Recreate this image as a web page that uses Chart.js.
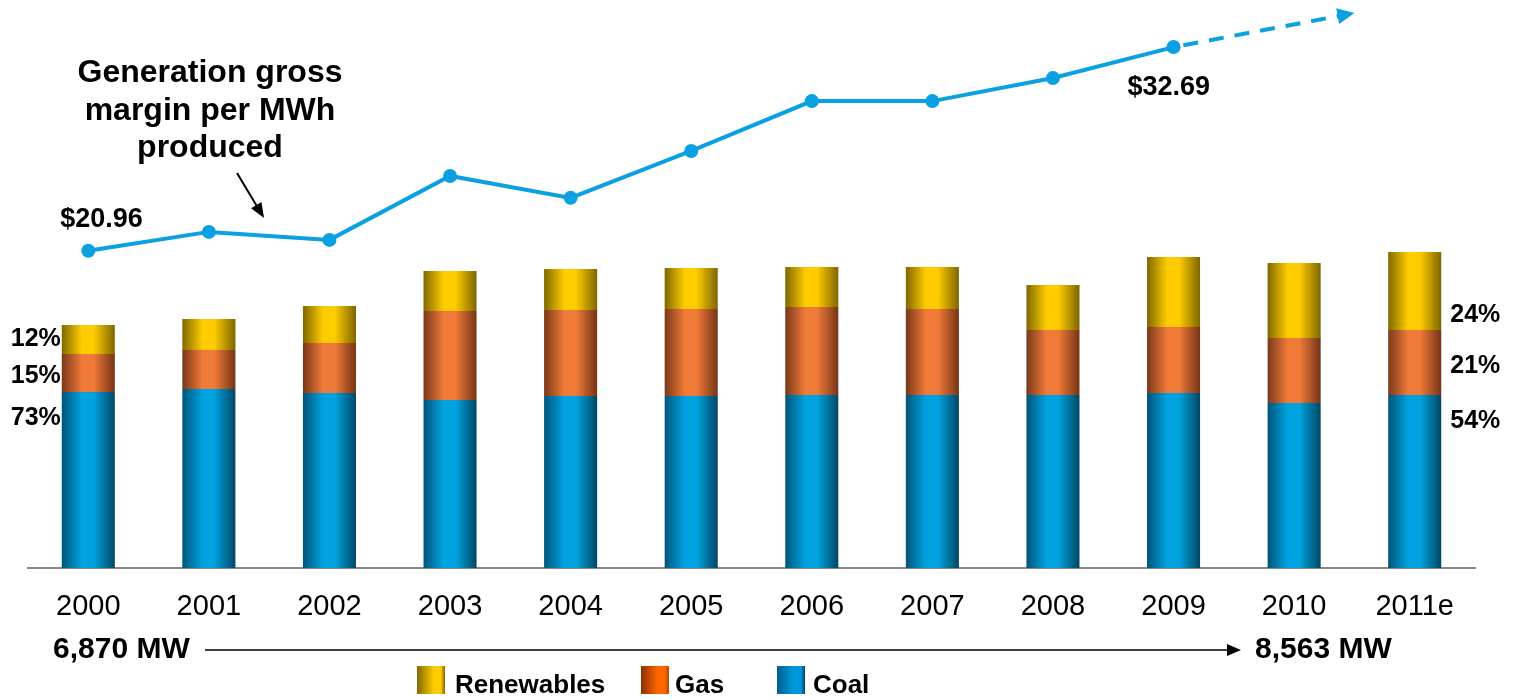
<!DOCTYPE html>
<html>
<head>
<meta charset="utf-8">
<title>Generation mix and gross margin per MWh</title>
<script src="https://cdn.jsdelivr.net/npm/chart.js@4.4.1/dist/chart.umd.min.js"></script>
<style>
    html, body { margin: 0; padding: 0; background: #fff; }
    #wrap { position: relative; width: 1518px; height: 700px; }
</style>
</head>
<body>
<div id="wrap"><canvas id="chart" width="1518" height="700"></canvas></div>
<script>
// Data
const years = ['2000', '2001', '2002', '2003', '2004', '2005', '2006', '2007', '2008', '2009', '2010', '2011e'];
const coal = [17.6, 17.9, 17.5, 16.8, 17.2, 17.2, 17.3, 17.3, 17.3, 17.5, 16.5, 17.3];
const gas = [3.8, 3.9, 5.0, 8.9, 8.6, 8.7, 8.8, 8.6, 6.5, 6.6, 6.5, 6.5];
const renewables = [2.9, 3.1, 3.7, 4.0, 4.1, 4.1, 4.0, 4.2, 4.5, 7.0, 7.5, 7.8];
const grossMargin = [20.96, 22.05, 21.59, 25.27, 24.01, 26.71, 29.58, 29.58, 30.91, 32.69, null, null];
const marginTrendEnd = 34.65;
const startShares = ['12%', '15%', '73%'];
const endShares = ['24%', '21%', '54%'];
const capacityStart = '6,870 MW';
const capacityEnd = '8,563 MW';
const marginTitle = ['Generation gross', 'margin per MWh', 'produced'];

const FONT = '"Liberation Sans", Arial, sans-serif';
const LINE_BLUE = '#0aa0e2';
const BAR_FRACTION = 0.44;

const palette = {
    coal: ['#005479', '#00a3e0', '#004763'],
    gas: ['#7a381a', '#f07a38', '#763416'],
    renewables: ['#7f6800', '#ffcc00', '#7d6600']
};

// horizontal shading across each bar, built from the x scale
function barFill(colors) {
    return (ctx) => {
        const chart = ctx.chart;
        const xs = chart.scales.x;
        if (!chart.chartArea || !xs || ctx.type !== 'data') return colors[1];
        const cx = xs.getPixelForValue(ctx.dataIndex);
        const half = xs.width / years.length * BAR_FRACTION / 2;
        const g = chart.ctx.createLinearGradient(cx - half, 0, cx + half, 0);
        g.addColorStop(0, colors[0]);
        g.addColorStop(0.38, colors[1]);
        g.addColorStop(0.6, colors[1]);
        g.addColorStop(1, colors[2]);
        return g;
    };
}

function arrowHead(ctx, tx, ty, ang, len, half) {
    const c = Math.cos(ang), s = Math.sin(ang);
    ctx.beginPath();
    ctx.moveTo(tx, ty);
    ctx.lineTo(tx - len * c + half * s, ty - len * s - half * c);
    ctx.lineTo(tx - len * c - half * s, ty - len * s + half * c);
    ctx.closePath();
    ctx.fill();
}

const annotations = {
    id: 'annotations',
    afterDatasetsDraw(chart) {
        const { ctx, scales: { x, y2 } } = chart;
        const coalMeta = chart.getDatasetMeta(0);
        const gasMeta = chart.getDatasetMeta(1);
        const lineMeta = chart.getDatasetMeta(3);
        ctx.save();

        // Dashed forecast arrow
        const lastIdx = grossMargin.reduce((a, v, i) => (v !== null ? i : a), 0);
        const p0 = lineMeta.data[lastIdx];
        const tipX = (x.getPixelForValue(years.length - 2) + x.getPixelForValue(years.length - 1)) / 2;
        const tipY = y2.getPixelForValue(marginTrendEnd);
        const ang = Math.atan2(tipY - p0.y, tipX - p0.x);
        ctx.strokeStyle = LINE_BLUE;
        ctx.fillStyle = LINE_BLUE;
        ctx.lineWidth = 4;
        ctx.setLineDash([15, 11]);
        ctx.beginPath();
        ctx.moveTo(p0.x + Math.cos(ang) * 10, p0.y + Math.sin(ang) * 10);
        ctx.lineTo(tipX - Math.cos(ang) * 14, tipY - Math.sin(ang) * 14);
        ctx.stroke();
        ctx.setLineDash([]);
        arrowHead(ctx, tipX, tipY, ang, 17, 8);

        // Value labels on the margin line
        ctx.fillStyle = '#000';
        ctx.font = 'bold 27px ' + FONT;
        ctx.textBaseline = 'alphabetic';
        ctx.textAlign = 'left';
        const first = lineMeta.data[0];
        ctx.fillText('$' + grossMargin[0].toFixed(2), first.x - 28, first.y - 24);
        ctx.fillText('$' + grossMargin[lastIdx].toFixed(2), p0.x - 46, p0.y + 48);

        // Title of the line
        ctx.font = 'bold 32px ' + FONT;
        ctx.textAlign = 'center';
        marginTitle.forEach((t, i) => ctx.fillText(t, 210, 82 + i * 37.5));

        // Pointer arrow
        ctx.strokeStyle = '#000';
        ctx.lineWidth = 2;
        const a2 = Math.atan2(218 - 173, 264 - 237);
        ctx.beginPath();
        ctx.moveTo(237, 173);
        ctx.lineTo(264 - Math.cos(a2) * 12, 218 - Math.sin(a2) * 12);
        ctx.stroke();
        arrowHead(ctx, 264, 218, a2, 15, 6);

        // Share labels next to first and last bars
        ctx.font = 'bold 25px ' + FONT;
        const shareY = (i) => {
            const gTop = gasMeta.data[i].y;
            const cTop = coalMeta.data[i].y;
            return [gTop - 8, (gTop + cTop) / 2 + 10, cTop + 33];
        };
        const b0 = coalMeta.data[0];
        ctx.textAlign = 'right';
        shareY(0).forEach((yy, k) => ctx.fillText(startShares[k], b0.x - b0.width / 2 - 1, yy));
        const bn = coalMeta.data[years.length - 1];
        ctx.textAlign = 'left';
        shareY(years.length - 1).forEach((yy, k) => ctx.fillText(endShares[k], bn.x + bn.width / 2 + 9, yy));

        // Capacity row
        ctx.font = 'bold 30px ' + FONT;
        ctx.textAlign = 'left';
        ctx.fillText(capacityStart, 53, 658);
        ctx.fillText(capacityEnd, 1255, 658);
        ctx.lineWidth = 1.5;
        ctx.beginPath();
        ctx.moveTo(205, 650);
        ctx.lineTo(1230, 650);
        ctx.stroke();
        arrowHead(ctx, 1241, 650, 0, 14, 6);

        // Legend
        const legend = [
            ['Renewables', palette.renewables, 417, 455],
            ['Gas', ['#8a3000', '#ff6600', '#b04800'], 641, 675],
            ['Coal', ['#005f8a', '#0099dd', '#004060'], 777, 813]
        ];
        ctx.font = 'bold 26px ' + FONT;
        legend.forEach(([label, cols, bx, tx]) => {
            const g = ctx.createLinearGradient(bx, 0, bx + 28, 0);
            g.addColorStop(0, cols[0]);
            g.addColorStop(0.6, cols[1]);
            g.addColorStop(0.85, cols[1]);
            g.addColorStop(1, cols[2]);
            ctx.fillStyle = g;
            ctx.fillRect(bx, 666, 28, 28);
            ctx.fillStyle = '#000';
            ctx.fillText(label, tx, 693);
        });
        ctx.restore();
    }
};

new Chart(document.getElementById('chart'), {
    data: {
        labels: years,
        datasets: [
            { type: 'bar', label: 'Coal', data: coal, backgroundColor: barFill(palette.coal), stack: 'mix' },
            { type: 'bar', label: 'Gas', data: gas, backgroundColor: barFill(palette.gas), stack: 'mix' },
            { type: 'bar', label: 'Renewables', data: renewables, backgroundColor: barFill(palette.renewables), stack: 'mix' },
            {
                type: 'line',
                label: 'Generation gross margin per MWh',
                data: grossMargin,
                yAxisID: 'y2',
                borderColor: LINE_BLUE,
                backgroundColor: LINE_BLUE,
                borderWidth: 4,
                pointRadius: 7,
                pointHoverRadius: 7,
                pointBorderWidth: 0,
                tension: 0
            }
        ]
    },
    options: {
        responsive: false,
        animation: false,
        layout: { autoPadding: false, padding: { left: 28, right: 43, top: 0, bottom: 0 } },
        datasets: { bar: { categoryPercentage: 1, barPercentage: BAR_FRACTION } },
        plugins: { legend: { display: false }, tooltip: { enabled: false } },
        scales: {
            x: {
                stacked: true,
                grid: { display: false, drawTicks: false },
                border: { display: true, color: '#888', width: 2 },
                ticks: { color: '#000', font: { family: FONT, size: 29 }, padding: 22, maxRotation: 0, autoSkip: false },
                afterFit: (s) => { s.height = 132; }
            },
            y: { stacked: true, display: false, min: 0, max: 56.8 },
            y2: { display: false, min: 2.7, max: 35.4 }
        }
    },
    plugins: [annotations]
});
</script>
</body>
</html>
